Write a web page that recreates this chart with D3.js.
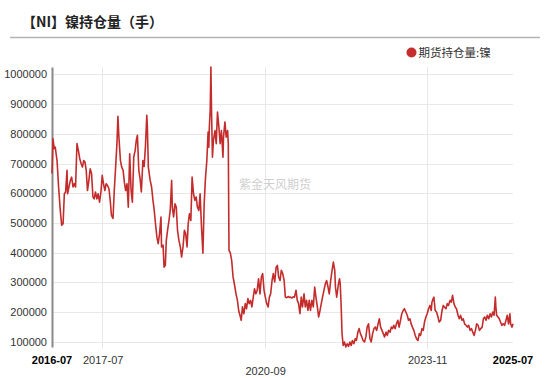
<!DOCTYPE html>
<html><head><meta charset="utf-8">
<script src="https://cdn.jsdelivr.net/npm/d3@7"></script>
<style>body{margin:0;background:#fff} svg{display:block}</style>
</head><body><svg id="c" width="550" height="378"></svg>
<script>
const title = "【NI】镍持仓量（手）";
const seriesName = "期货持仓量:镍";
const watermark = "紫金天风期货";
const yTicks = [100000,200000,300000,400000,500000,600000,700000,800000,900000,1000000];
const xTickLabels = ["2016-07","2017-07","2020-09","2023-11","2025-07"];

const dates = [
"2016-07-01","2016-07-08","2016-07-17","2016-07-24","2016-08-06","2016-08-17","2016-08-29","2016-09-08","2016-09-18","2016-09-27",
"2016-10-06","2016-10-16","2016-10-20","2016-10-30","2016-11-09","2016-11-18","2016-11-28","2016-12-07","2016-12-16","2016-12-26",
"2017-01-05","2017-01-15","2017-01-25","2017-02-03","2017-02-12","2017-02-21","2017-03-02","2017-03-11","2017-03-21","2017-03-30",
"2017-04-09","2017-04-19","2017-04-28","2017-05-07","2017-05-17","2017-05-26","2017-06-05","2017-06-15","2017-06-24","2017-07-03",
"2017-07-13","2017-07-22","2017-08-01","2017-08-11","2017-08-20","2017-08-29","2017-09-09","2017-09-18","2017-09-27","2017-10-07",
"2017-10-14","2017-10-21","2017-11-01","2017-11-10","2017-11-20","2017-11-29","2017-12-08","2017-12-18","2017-12-27","2018-01-06",
"2018-01-16","2018-01-25","2018-02-04","2018-02-14","2018-02-22","2018-03-02","2018-03-12","2018-03-21","2018-03-30","2018-04-10",
"2018-04-19","2018-04-28","2018-05-08","2018-05-12","2018-05-19","2018-06-01","2018-06-11","2018-06-21","2018-06-30","2018-07-09",
"2018-07-19","2018-07-28","2018-08-07","2018-08-17","2018-08-21","2018-09-01","2018-09-08","2018-09-17","2018-09-24","2018-10-03",
"2018-10-13","2018-10-22","2018-11-01","2018-11-06","2018-11-15","2018-11-25","2018-12-04","2018-12-13","2018-12-23","2019-01-02",
"2019-01-11","2019-01-21","2019-01-31","2019-02-09","2019-02-19","2019-02-27","2019-03-08","2019-03-18","2019-03-27","2019-04-06",
"2019-04-16","2019-04-25","2019-05-04","2019-05-14","2019-05-23","2019-06-02","2019-06-12","2019-06-21","2019-06-30","2019-07-10",
"2019-07-19","2019-07-24","2019-07-28","2019-08-03","2019-08-08","2019-08-12","2019-08-19","2019-08-26","2019-09-06","2019-09-15",
"2019-09-24","2019-10-04","2019-10-13","2019-10-22","2019-11-02","2019-11-06","2019-11-16","2019-11-25","2019-12-05","2019-12-10",
"2019-12-15","2019-12-24","2020-01-03","2020-01-13","2020-01-22","2020-02-03","2020-02-13","2020-02-22","2020-03-02","2020-03-11",
"2020-03-20","2020-03-30","2020-04-09","2020-04-18","2020-04-28","2020-05-07","2020-05-17","2020-05-26","2020-06-05","2020-06-14",
"2020-06-24","2020-07-03","2020-07-13","2020-07-23","2020-08-02","2020-08-11","2020-08-21","2020-08-30","2020-09-09","2020-09-19",
"2020-09-28","2020-10-07","2020-10-17","2020-10-26","2020-11-05","2020-11-15","2020-11-24","2020-12-03","2020-12-13","2020-12-22",
"2021-01-01","2021-01-11","2021-01-20","2021-01-29","2021-02-09","2021-02-18","2021-02-26","2021-03-08","2021-03-17","2021-03-26",
"2021-04-06","2021-04-15","2021-04-24","2021-05-04","2021-05-13","2021-05-22","2021-06-02","2021-06-11","2021-06-20","2021-06-30",
"2021-07-09","2021-07-18","2021-07-28","2021-08-07","2021-08-17","2021-08-26","2021-09-05","2021-09-14","2021-09-24","2021-10-03",
"2021-10-12","2021-10-22","2021-11-01","2021-11-10","2021-11-20","2021-11-29","2021-12-09","2021-12-19","2021-12-28","2022-01-07",
"2022-01-12","2022-01-21","2022-02-01","2022-02-10","2022-02-15","2022-02-22","2022-02-28","2022-03-08","2022-03-17","2022-03-27",
"2022-04-06","2022-04-15","2022-04-25","2022-05-04","2022-05-13","2022-05-23","2022-06-02","2022-06-11","2022-06-21","2022-06-30",
"2022-07-09","2022-07-19","2022-07-28","2022-08-07","2022-08-17","2022-08-26","2022-09-05","2022-09-15","2022-09-24","2022-10-04",
"2022-10-14","2022-10-23","2022-11-02","2022-11-12","2022-11-21","2022-11-30","2022-12-10","2022-12-19","2022-12-28","2023-01-08",
"2023-01-17","2023-01-26","2023-02-06","2023-02-14","2023-02-23","2023-03-04","2023-03-14","2023-03-23","2023-04-02","2023-04-11",
"2023-04-21","2023-04-30","2023-05-10","2023-05-19","2023-05-29","2023-06-08","2023-06-17","2023-06-27","2023-07-06","2023-07-15",
"2023-07-25","2023-08-04","2023-08-13","2023-08-23","2023-09-02","2023-09-11","2023-09-21","2023-09-30","2023-10-09","2023-10-19",
"2023-10-28","2023-11-07","2023-11-17","2023-11-26","2023-12-01","2023-12-10","2023-12-15","2023-12-24","2024-01-03","2024-01-13",
"2024-01-22","2024-02-01","2024-02-11","2024-02-20","2024-02-28","2024-03-10","2024-03-19","2024-03-28","2024-04-08","2024-04-17",
"2024-04-26","2024-05-06","2024-05-15","2024-05-24","2024-06-04","2024-06-13","2024-06-22","2024-07-02","2024-07-11","2024-07-21",
"2024-07-31","2024-08-10","2024-08-19","2024-08-29","2024-09-08","2024-09-17","2024-09-27","2024-10-06","2024-10-15","2024-10-25",
"2024-11-04","2024-11-13","2024-11-23","2024-12-02","2024-12-11","2024-12-21","2024-12-30","2025-01-09","2025-01-19","2025-01-28",
"2025-02-07","2025-02-16","2025-02-25","2025-03-01","2025-03-06","2025-03-16","2025-03-25","2025-04-03","2025-04-13","2025-04-22",
"2025-05-02","2025-05-12","2025-05-21","2025-05-30","2025-06-09","2025-06-14","2025-06-24","2025-07-01"
];

const values = [
666000,783000,750000,755000,710000,621000,542000,492000,497000,598000,
604000,677000,598000,621000,643000,654000,621000,632000,621000,767000,
744000,716000,699000,688000,710000,705000,677000,609000,643000,682000,
666000,587000,581000,604000,581000,598000,570000,604000,660000,632000,
609000,632000,626000,615000,576000,525000,515000,609000,682000,767000,
859000,789000,710000,688000,677000,637000,609000,632000,553000,733000,
609000,570000,722000,744000,778000,795000,677000,649000,604000,710000,
690000,755000,862000,823000,688000,643000,621000,576000,542000,497000,
452000,430000,464000,520000,419000,425000,351000,357000,441000,475000,
508000,542000,643000,553000,520000,564000,553000,475000,441000,419000,
385000,419000,475000,464000,419000,497000,531000,508000,654000,598000,
576000,587000,553000,542000,598000,486000,398000,564000,649000,710000,
806000,755000,823000,879000,1025000,890000,721000,778000,811000,767000,
873000,823000,767000,811000,721000,789000,840000,789000,811000,767000,
407000,400000,374000,318000,295000,261000,239000,205000,189000,172000,
217000,194000,228000,211000,245000,228000,239000,217000,250000,278000,
261000,273000,312000,261000,318000,329000,273000,250000,228000,217000,
250000,261000,306000,329000,301000,351000,357000,318000,306000,340000,
329000,306000,250000,248000,252000,249000,250000,247000,251000,250000,
273000,239000,228000,194000,250000,217000,261000,217000,239000,205000,
239000,205000,239000,217000,284000,250000,217000,183000,205000,228000,
250000,273000,295000,306000,284000,261000,306000,340000,368000,340000,
284000,250000,290000,312000,295000,217000,127000,87000,99000,82000,
93000,84000,99000,87000,104000,93000,110000,104000,132000,144000,
127000,116000,104000,99000,116000,149000,160000,110000,99000,127000,
144000,149000,138000,160000,177000,149000,138000,127000,116000,132000,
121000,138000,132000,149000,144000,155000,144000,160000,172000,149000,
172000,194000,205000,211000,200000,189000,172000,177000,160000,149000,
138000,121000,110000,104000,127000,121000,144000,138000,166000,183000,
194000,211000,222000,205000,233000,245000,250000,205000,200000,183000,
166000,172000,205000,222000,217000,211000,228000,222000,239000,233000,
256000,228000,217000,211000,189000,177000,189000,172000,177000,160000,
155000,149000,155000,138000,144000,132000,121000,138000,160000,155000,
138000,144000,149000,177000,183000,172000,189000,177000,194000,183000,
200000,189000,250000,217000,189000,183000,177000,166000,155000,160000,
155000,172000,189000,160000,194000,160000,149000,160000
];

const svg = d3.select("#c");
const L = 52, R = 513, T = 67, B = 347;
const parse = d3.timeParse("%Y-%m-%d");
const parseM = d3.timeParse("%Y-%m");
const data = dates.map((d, i) => ({ t: parse(d), v: values[i] }));

const x = d3.scaleTime().domain(d3.extent(data, d => d.t)).range([L, R]);
const y = d3.scaleLinear().domain(d3.extent(values)).range([B, T]);

const CJK = "'Noto Sans CJK SC','Noto Sans',sans-serif";
const LAT = "'Liberation Sans',Arial,Helvetica,sans-serif";

// title
svg.append("text").attr("x", 22).attr("y", 27).text(title)
  .style("font-family", CJK).style("font-weight", "bold").style("font-size", "14px").attr("fill", "#222");
svg.append("line").attr("x1", 10).attr("x2", 540).attr("y1", 37.5).attr("y2", 37.5)
  .attr("stroke", "#b4b4b4").attr("stroke-width", 1.5);

// legend
svg.append("circle").attr("cx", 411.5).attr("cy", 52.5).attr("r", 5).attr("fill", "#c62d2d");
svg.append("text").attr("x", 418.5).attr("y", 57).text(seriesName)
  .style("font-family", CJK).style("font-size", "11.5px").attr("fill", "#333");

// grid
svg.append("g").selectAll("line").data(yTicks).join("line")
  .attr("x1", L).attr("x2", R).attr("y1", d => Math.round(y(d)) + 0.5).attr("y2", d => Math.round(y(d)) + 0.5)
  .attr("stroke", "#e8e8e8").attr("stroke-width", 1);
const xt = xTickLabels.map(s => parseM(s));
svg.append("g").selectAll("line").data(xt.slice(1, -1)).join("line")
  .attr("x1", d => Math.round(x(d)) - 0.5).attr("x2", d => Math.round(x(d)) - 0.5).attr("y1", T).attr("y2", B + 2)
  .attr("stroke", "#e8e8e8").attr("stroke-width", 1);

// watermark
svg.append("text").attr("x", 239).attr("y", 189).text(watermark)
  .style("font-family", CJK).style("font-size", "12px").attr("fill", "#cfcfcf");

// y axis
const ya = svg.append("g").attr("transform", `translate(${L},0)`)
  .call(d3.axisLeft(y).tickValues(yTicks).tickSize(0).tickSizeOuter(0).tickPadding(5).tickFormat(d3.format("d")));
ya.select(".domain").attr("stroke", "#8a8a8a").attr("stroke-width", 2);
ya.selectAll("text").style("font-family", LAT).style("font-size", "11px").attr("fill", "#333");

// x labels
svg.append("g").selectAll("text").data(xTickLabels).join("text")
  .attr("x", (d, i) => x(xt[i]))
  .attr("y", (d, i) => i === 2 ? 375 : 364)
  .attr("text-anchor", "middle")
  .text(d => d)
  .style("font-family", LAT).style("font-size", "11px")
  .style("font-weight", (d, i) => (i === 0 || i === xTickLabels.length - 1) ? "bold" : "normal")
  .attr("fill", (d, i) => (i === 0 || i === xTickLabels.length - 1) ? "#000" : "#333");

// line
svg.append("path").datum(data)
  .attr("d", d3.line().x(d => x(d.t)).y(d => y(d.v)))
  .attr("fill", "none").attr("stroke", "#c42c2c").attr("stroke-width", 1.6).attr("stroke-linejoin", "round");
</script></body></html>
